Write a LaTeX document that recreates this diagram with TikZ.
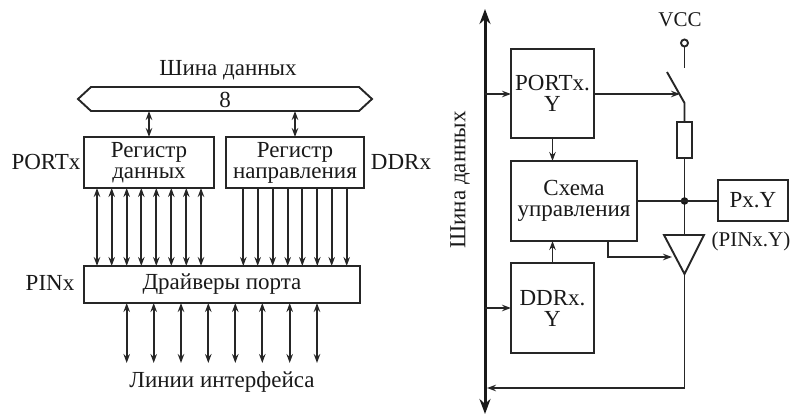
\documentclass[tikz,border=0pt]{standalone}
\usepackage{fontspec}
\setmainfont{Liberation Serif}
\usetikzlibrary{arrows.meta}
\tikzset{
  x=1pt,y=-1pt,
  every node/.style={font=\fontsize{23}{21}\selectfont,inner sep=0pt,outer sep=0pt,text=black!90},
  blk/.style={draw=black!85,line width=1.9pt,anchor=north west,align=center},
  txt/.style={align=center},
  small/.style={font=\fontsize{21}{21}\selectfont},
  wire/.style={draw=black!85,line width=1.9pt},
  tipa/.style={wire,-{Stealth[length=9pt,width=6.5pt]}},
  tipb/.style={wire,{Stealth[length=9pt,width=6.5pt]}-{Stealth[length=9pt,width=6.5pt]}},
  fatbus/.style={draw=black!90,line width=3pt,{Stealth[length=15pt,width=11pt]}-{Stealth[length=15pt,width=11pt]}},
}
\begin{document}
\begin{tikzpicture}
\useasboundingbox (0,0) rectangle (793,415);
% left diagram
\node[txt] (bustitle) at (228,70) {Шина данных};
\node[txt] (buswidth) at (225,100) {8};
\draw[wire,line join=miter] (78,99) -- (91,87) -- (359,87) -- (372,99) -- (359,111) -- (91,111) -- cycle;
\coordinate (busa) at (149,111);
\coordinate (busb) at (295,111);
\node[blk,minimum width=130pt,minimum height=51pt] (data) at (84,137) {Регистр\\данных};
\node[blk,minimum width=138pt,minimum height=51pt] (dir) at (226,137) {Регистр\\направления};
\node[blk,minimum width=276pt,minimum height=37pt] (drv) at (84,266) {Драйверы порта};
\node[txt] (portx) at (46,162) {PORTx};
\node[txt] (ddrx) at (401,162) {DDRx};
\node[txt] (pinx) at (50,283) {PINx};
\node[txt] (lines) at (222,382) {Линии интерфейса};
\coordinate (linesend) at (84,363);
\draw[tipb] (busa) -- (busa |- data.north);
\draw[tipb] (busb) -- (busb |- dir.north);
\foreach \d in {13,27.7,42.7,57.3,72.3,87.3,102.3,117}{
  \coordinate (p) at ([xshift=\d pt]data.south west);
  \draw[tipb] (p) -- (p |- drv.north);
}
\foreach \d in {17.3,31.7,46.7,61.7,76.3,91.3,105.7,120.7}{
  \coordinate (p) at ([xshift=\d pt]dir.south west);
  \draw[tipa] (p) -- (p |- drv.north);
}
\foreach \d in {42.7,69.7,97,124.3,151.3,178.3,205.7,233}{
  \coordinate (p) at ([xshift=\d pt]drv.south west);
  \draw[tipb] (p) -- (p |- linesend);
}
% right diagram
\coordinate (bustop) at (485,9);
\coordinate (busbot) at (485,414);
\draw[fatbus] (bustop) -- (busbot);
\node[txt,rotate=90] (busname) at (460,180) {Шина данных};
\node[blk,minimum width=83pt,minimum height=89pt] (port) at (511,49) {PORTx.\\Y};
\node[blk,minimum width=126pt,minimum height=80pt] (ctrl) at (511,161) {Схема\\управления};
\node[blk,minimum width=83pt,minimum height=90pt] (ddr) at (511,263) {DDRx.\\Y};
\node[blk,minimum width=70pt,minimum height=41pt] (pxy) at (718,180) {Px.Y};
\node[txt,small] (pin) at (751,241) {(PINx.Y)};
\node[txt,small] (vcc) at (680,20) {VCC};
\node[draw=black!85,line width=1.9pt,circle,minimum size=7pt] (vc) at (684.5,43) {};
\coordinate (vend) at (684.5,68);
\draw[wire] (vc.south) -- (vend);
\node[blk,minimum width=15pt,minimum height=36pt] (res) at (677,122) {};
\coordinate (swa) at (667,72);
\coordinate (swb) at (684.5,103);
\coordinate (swc) at (680,94);
\draw[wire] (swa) -- (swb) -- (res.north);
\coordinate (dot) at (684.5,201);
\coordinate (tl) at (664,235);
\coordinate (tr) at (704,235);
\coordinate (tt) at (684.5,274);
\coordinate (tm) at (684.5,235);
\draw[wire,line join=miter,fill=white] (tl) -- (tr) -- (tt) -- cycle;
\draw[wire] (res.south) -- (tm);
\fill[black!90] (dot) circle (3.8pt);
\draw[wire] (ctrl.east |- dot) -- (pxy.west |- dot);
\coordinate (busport) at (485,94);
\coordinate (busddr) at (485,308);
\draw[tipa] (busport) -- (port.west |- busport);
\draw[tipa] (busddr) -- (ddr.west |- busddr);
\draw[tipa] (port.east |- busport) -- (swc);
\draw[tipa] (port.south) -- (port.south |- ctrl.north);
\draw[tipa] (ddr.north) -- (ddr.north |- ctrl.south);
\coordinate (en) at (608,241);
\coordinate (enb) at (608,257);
\coordinate (ent) at (672,257);
\draw[tipa] (en) -- (enb) -- (ent);
\coordinate (fb) at (684.5,388);
\coordinate (fbe) at (487,388);
\draw[tipa] (tt) -- (fb) -- (fbe);
\end{tikzpicture}
\end{document}
